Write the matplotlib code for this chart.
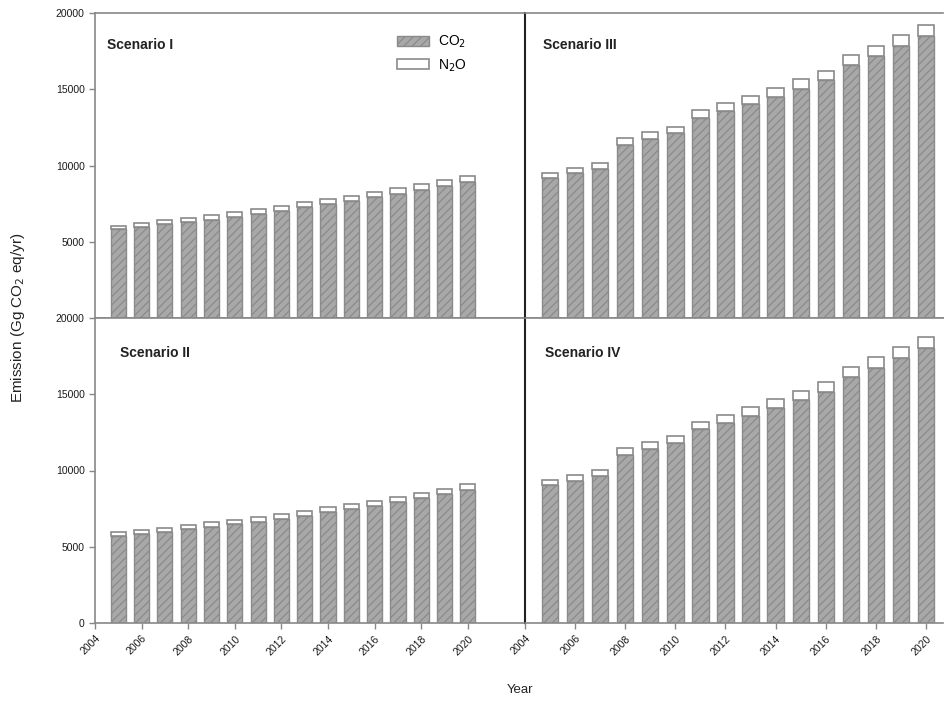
import matplotlib
matplotlib.use("Agg")
import matplotlib.pyplot as plt
import numpy as np

plt.rcParams['font.family'] = ['Liberation Sans', 'DejaVu Sans']
plt.rcParams['hatch.color'] = '#555555'
plt.rcParams['hatch.linewidth'] = 0.9

years = list(range(2005, 2021))

s1_total = [6024, 6199, 6397, 6572, 6747, 6944, 7141, 7338, 7580, 7777, 8018, 8259, 8500, 8784, 9025, 9332]
s1_co2 = [5805, 5937, 6134, 6287, 6440, 6637, 6835, 7032, 7251, 7470, 7689, 7908, 8127, 8390, 8653, 8916]

s2_total = [5945, 6098, 6251, 6404, 6601, 6754, 6929, 7148, 7344, 7585, 7803, 8022, 8262, 8525, 8809, 9115]
s2_co2 = [5683, 5836, 5989, 6142, 6295, 6470, 6645, 6842, 7038, 7257, 7475, 7694, 7913, 8175, 8437, 8721]

s3_total = [9529, 9858, 10186, 11807, 12180, 12552, 13647, 14086, 14567, 15093, 15641, 16188, 17240, 17853, 18554, 19233]
s3_co2 = [9157, 9485, 9770, 11325, 11720, 12114, 13122, 13560, 14042, 14524, 15049, 15575, 16583, 17152, 17810, 18510]

s4_total = [9399, 9705, 10011, 11497, 11869, 12240, 13202, 13661, 14142, 14667, 15235, 15782, 16787, 17421, 18077, 18776]
s4_co2 = [9027, 9311, 9617, 11038, 11410, 11781, 12721, 13115, 13596, 14099, 14623, 15126, 16131, 16721, 17377, 18055]

scenario_names = ['Scenario I', 'Scenario III', 'Scenario II', 'Scenario IV']
xticks = list(range(2004, 2021, 2))
yticks = [0, 5000, 10000, 15000, 20000]

fig = plt.figure(figsize=(9.44, 7.04), dpi=100)
W, H = 944, 704
def rect(x0, y0, x1, y1):
    return [x0 / W, 1 - y1 / H, (x1 - x0) / W, (y1 - y0) / H]

ax_tl = fig.add_axes(rect(95, 13, 525, 318))
ax_tr = fig.add_axes(rect(525, 13, 943, 318))
ax_bl = fig.add_axes(rect(95, 318, 525, 623))
ax_br = fig.add_axes(rect(525, 318, 943, 623))

panels = [
    (ax_tl, s1_total, s1_co2, scenario_names[0], (0.028, 0.895), True, True),
    (ax_tr, s3_total, s3_co2, scenario_names[1], (0.043, 0.895), False, True),
    (ax_bl, s2_total, s2_co2, scenario_names[2], (0.058, 0.885), True, False),
    (ax_br, s4_total, s4_co2, scenario_names[3], (0.048, 0.885), False, False),
]

bar_w = 0.65
gray_edge = '#8a8a8a'
for ax, tot, co2, name, pos, is_left, is_top in panels:
    n2o = [t - c for t, c in zip(tot, co2)]
    ax.bar(years, co2, width=bar_w, color='#a8a8a8', edgecolor=gray_edge,
           hatch='////', linewidth=1.0, label='CO$_2$')
    ax.bar(years, n2o, bottom=co2, width=bar_w, color='white',
           edgecolor=gray_edge, linewidth=1.2, label='N$_2$O')
    ax.set_ylim(0, 20000)
    if is_left:
        ax.set_xlim(2004, 2022.45)
    else:
        ax.set_xlim(2004, 2020.68)
    ax.text(pos[0], pos[1], name, transform=ax.transAxes, fontsize=10,
            fontweight='bold', ha='left', va='center', color='#222222')
    for s in ['top', 'bottom', 'left', 'right']:
        ax.spines[s].set_color('#888888')
        ax.spines[s].set_linewidth(1.2)
    ax.spines['right'].set_visible(False)
    if not is_left:
        ax.spines['left'].set_color('#222222')
        ax.spines['left'].set_linewidth(1.5)
        ax.set_yticks([])
    else:
        if is_top:
            ax.set_yticks(yticks[1:])
        else:
            ax.set_yticks(yticks)
        ax.tick_params(axis='y', labelsize=7.5, length=4, color='#888888',
                       labelcolor='#1a1a1a', direction='out', width=1)
    ax.set_xticks(xticks)
    if is_top:
        ax.tick_params(axis='x', length=0, labelbottom=False)
    else:
        ax.tick_params(axis='x', labelsize=7.5, length=4, color='#888888',
                       labelcolor='#1a1a1a', direction='out', width=1)
        for lbl in ax.get_xticklabels():
            lbl.set_rotation(45)
            lbl.set_ha('right')
            lbl.set_rotation_mode('anchor')

ax_tl.legend(loc='upper left', bbox_to_anchor=(0.69, 0.95), frameon=False,
             fontsize=10, handlelength=2.3, handleheight=0.7, labelspacing=0.5,
             handletextpad=0.6, borderaxespad=0.0)

fig.text(18 / W, 1 - 318 / H, 'Emission (Gg CO$_2$ eq/yr)', rotation=90,
         ha='center', va='center', fontsize=11, color='#222222')
fig.text(520 / W, 1 - 690 / H, 'Year', ha='center', va='center',
         fontsize=9.5, color='#222222')

fig.savefig('out.png', dpi=100)
